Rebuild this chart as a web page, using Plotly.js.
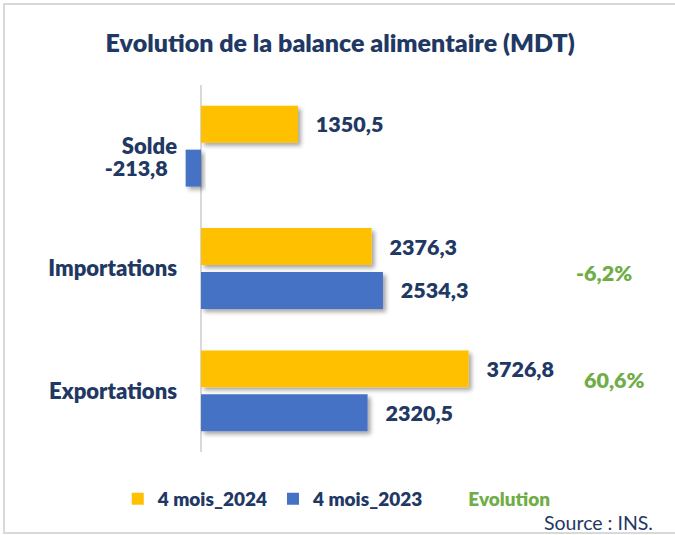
<!DOCTYPE html>
<html>
<head>
<meta charset="utf-8">
<script src="https://cdn.plot.ly/plotly-3.0.1.min.js"></script>
<style>
  html, body { margin: 0; padding: 0; background: #ffffff; }
  #wrap { position: relative; width: 675px; height: 535px; overflow: hidden; }
  #chart { width: 675px; height: 535px; }
  #frame { position: absolute; left: 3px; top: 3px; width: 690px; height: 527px;
           border-left: 2px solid #d9d9d9; border-top: 2px solid #d9d9d9; border-bottom: 2px solid #d9d9d9;
           pointer-events: none; }
  .bars .point path { filter: url(#barshadow); }
</style>
</head>
<body>
<svg width="0" height="0" style="position:absolute">
  <defs>
    <filter id="barshadow" x="-20%" y="-20%" width="150%" height="160%">
      <feDropShadow dx="3" dy="3" stdDeviation="2" flood-color="#000000" flood-opacity="0.35"/>
    </filter>
  </defs>
</svg>
<div id="wrap">
  <div id="chart"></div>
  <div id="frame"></div>
</div>
<script>
// ---- data ----
const categories = ["Solde", "Importations", "Exportations"];
const values2024 = [1350.5, 2376.3, 3726.8];
const values2023 = [-213.8, 2534.3, 2320.5];
const evolutionCategories = ["Importations", "Exportations"];
const evolutionValues = [-6.2, 60.6];
const seriesNames = ["4 mois_2024", "4 mois_2023", "Evolution"];
const chartTitle = "Evolution de la balance alimentaire (MDT)";
const sourceText = "Source : INS.";

// ---- styles ----
const NAVY = "#1F3864";
const GREEN = "#70AD47";
const FONT = "Lato, 'Open Sans', sans-serif";
const W = 800;
const pad = "\u00a0\u00a0\u00a0";

function tmpl(vals) {
  return vals.map(v => v < 0 ? "%{x:.1f}" + pad : pad + "%{x:.1f}");
}
function fmt(v) {
  return v.toFixed(1).replace(".", ",") + "%";
}

const barCommon = {
  type: "bar",
  orientation: "h",
  y: categories,
  textposition: "outside",
  cliponaxis: false,
  constraintext: "none",
  textfont: { family: FONT, size: 21.5, color: NAVY, weight: W },
  hoverinfo: "skip"
};

const traces = [
  Object.assign({}, barCommon, {
    name: seriesNames[0], x: values2024, texttemplate: tmpl(values2024),
    marker: { color: "#FFC000" }
  }),
  Object.assign({}, barCommon, {
    name: seriesNames[1], x: values2023, texttemplate: tmpl(values2023),
    marker: { color: "#4472C4" }
  }),
  {
    type: "scatter", mode: "lines", x: [null], y: [null],
    name: '<span style="color:' + GREEN + '">' + seriesNames[2] + '</span>',
    line: { width: 0, color: "rgba(0,0,0,0)" }, hoverinfo: "skip"
  }
];

const evoXShift = [-5, 6];
const evoYShift = [-4, 11];
const annotations = evolutionCategories.map((c, i) => ({
  xref: "paper", yref: "y", x: 0.893, y: c,
  xanchor: "center", yanchor: "middle",
  xshift: evoXShift[i], yshift: evoYShift[i],
  text: fmt(evolutionValues[i]), showarrow: false,
  font: { family: FONT, size: 21.5, color: GREEN, weight: W }
}));
annotations.push({
  xref: "paper", yref: "paper", x: 0.9895, y: -0.193,
  xanchor: "right", yanchor: "middle",
  text: sourceText, showarrow: false,
  font: { family: FONT, size: 19.5, color: NAVY }
});

const layout = {
  width: 675, height: 535,
  margin: { l: 182, r: 15, t: 85, b: 83 },
  paper_bgcolor: "rgba(0,0,0,0)",
  plot_bgcolor: "rgba(0,0,0,0)",
  separators: ", ",
  barmode: "group",
  bargap: 0.2816,
  bargroupgap: 0.159,
  title: {
    text: chartTitle,
    x: 0.504, xanchor: "center",
    y: 0.919, yanchor: "middle",
    font: { family: FONT, size: 25, color: NAVY, weight: W }
  },
  xaxis: {
    range: [-264.6, 6393],
    showticklabels: false, showgrid: false, ticks: "",
    zeroline: true, zerolinecolor: "#d9d9d9", zerolinewidth: 2,
    showline: false, fixedrange: true
  },
  yaxis: {
    type: "category",
    autorange: "reversed",
    showgrid: false, zeroline: false, showline: false, ticks: "",
    automargin: false,
    ticklabelstandoff: 4,
    tickfont: { family: FONT, size: 22, color: NAVY, weight: W },
    fixedrange: true
  },
  showlegend: true,
  legend: {
    orientation: "h",
    x: -0.1344, xanchor: "left",
    y: -0.128, yanchor: "middle",
    font: { family: FONT, size: 19, color: NAVY, weight: W },
    bgcolor: "rgba(0,0,0,0)",
    traceorder: "normal"
  },
  annotations: annotations
};

Plotly.newPlot("chart", traces, layout, { displayModeBar: false, staticPlot: true });
</script>
</body>
</html>
